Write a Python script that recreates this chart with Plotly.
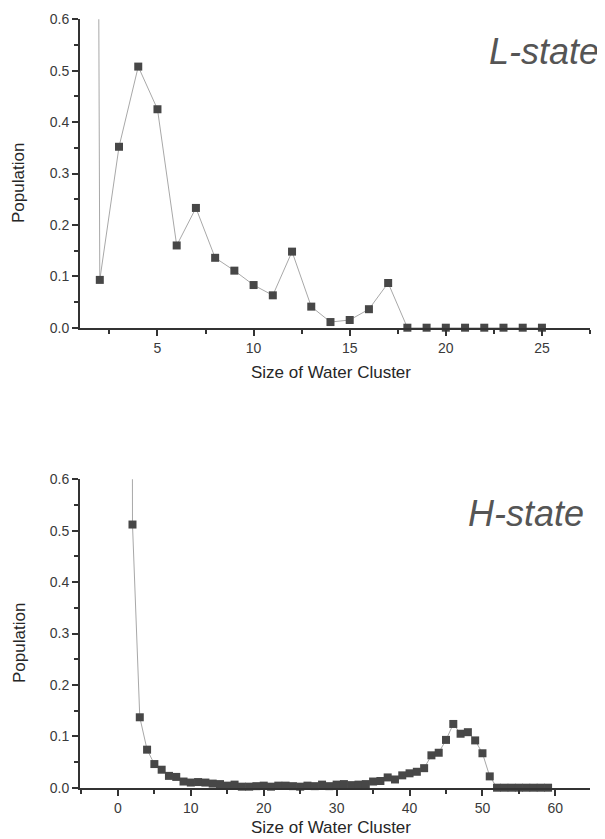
import plotly.graph_objects as go

# ---------------- data ----------------
# L-state (top panel); the first point (size 1) lies far above the 0.6 axis limit
l_sizes = list(range(1, 26))
l_population = [10.0, 0.093, 0.352, 0.508, 0.425, 0.160, 0.233, 0.136, 0.111, 0.083,
                0.063, 0.148, 0.041, 0.011, 0.015, 0.036, 0.087, 0.0, 0.0, 0.0,
                0.0, 0.0, 0.0, 0.0, 0.0]

# H-state (bottom panel); the first point (size 1) lies far above the 0.6 axis limit
h_sizes = list(range(1, 60))
h_population = [10.0, 0.512, 0.137, 0.074, 0.046, 0.035, 0.023, 0.021, 0.012, 0.010,
                0.011, 0.010, 0.008, 0.007, 0.004, 0.006, 0.002, 0.002, 0.003, 0.004,
                0.002, 0.004, 0.004, 0.003, 0.002, 0.004, 0.003, 0.006, 0.003, 0.006,
                0.007, 0.005, 0.006, 0.007, 0.012, 0.013, 0.020, 0.016, 0.024, 0.028,
                0.031, 0.038, 0.063, 0.068, 0.093, 0.124, 0.105, 0.108, 0.092, 0.067,
                0.022, 0.0, 0.0, 0.0, 0.0, 0.0, 0.0, 0.0, 0.0]

x_title = "Size of Water Cluster"
y_title = "Population"
labels = ["L-state", "H-state"]

# ---------------- style ----------------
LINE_COLOR = "#a8a8a8"
MARKER_COLOR = "#474747"
AXIS_COLOR = "#333333"
TEXT_COLOR = "#3a3a3a"
FONT = "Liberation Sans, Arial, sans-serif"

# the page body has an 8px margin, so the figure is drawn 8px smaller and
# positions below are given in figure pixels (= page pixels - 8)
W, H = 597, 831


def px(x):
    return x / W


def py(y):
    return 1 - y / H


fig = go.Figure()

panels = [
    (l_sizes, l_population, "x", "y"),
    (h_sizes, h_population, "x2", "y2"),
]
for xs, ys, xa, ya in panels:
    fig.add_trace(go.Scatter(x=xs, y=ys, mode="lines", xaxis=xa, yaxis=ya,
                             line=dict(color=LINE_COLOR, width=1),
                             showlegend=False, hoverinfo="skip"))
    fig.add_trace(go.Scatter(x=xs[1:], y=ys[1:], mode="markers", xaxis=xa, yaxis=ya,
                             marker=dict(symbol="square", size=8, color=MARKER_COLOR,
                                         line=dict(width=0)),
                             cliponaxis=False, showlegend=False))

axis_common = dict(
    showline=True, linecolor=AXIS_COLOR, linewidth=2,
    showgrid=False, zeroline=False, mirror=False, automargin=False,
    ticks="outside", ticklen=6, tickwidth=1.5, tickcolor=AXIS_COLOR,
    tickfont=dict(family=FONT, size=14, color=TEXT_COLOR),
)


def minor(step):
    return dict(ticks="outside", dtick=step, tick0=0, ticklen=4,
                tickcolor=AXIS_COLOR, tickwidth=1.5)


X_DOM = [px(72), px(582)]
TOP_Y = [py(319.7), py(11.3)]
BOT_Y = [py(779.7), py(471.3)]

title_font = dict(family=FONT, size=17, color="#262626")
state_font = dict(family=FONT, size=36, color="#555555")

fig.update_layout(
    template="none",
    width=W, height=H,
    margin=dict(l=0, r=0, t=0, b=0, autoexpand=False),
    paper_bgcolor="white", plot_bgcolor="white",
    font=dict(family=FONT, color=TEXT_COLOR),
    xaxis=dict(domain=X_DOM, anchor="y", range=[0.97, 27.5],
               tick0=0, dtick=5, minor=minor(2.5), **axis_common),
    yaxis=dict(domain=TOP_Y, anchor="x", range=[0, 0.6],
               tick0=0, dtick=0.1, tickformat=".1f", minor=minor(0.05), **axis_common),
    xaxis2=dict(domain=X_DOM, anchor="y2", range=[-5.2, 64.75],
                tick0=0, dtick=10, minor=minor(5), **axis_common),
    yaxis2=dict(domain=BOT_Y, anchor="x2", range=[0, 0.6],
                tick0=0, dtick=0.1, tickformat=".1f", minor=minor(0.05), **axis_common),
    annotations=[
        # axis titles
        dict(text=x_title, xref="paper", yref="paper", x=px(323), y=py(365),
             xanchor="center", yanchor="middle", showarrow=False, font=title_font),
        dict(text=x_title, xref="paper", yref="paper", x=px(323), y=py(819),
             xanchor="center", yanchor="middle", showarrow=False, font=title_font),
        dict(text=y_title, xref="paper", yref="paper", x=px(11), y=py(175),
             xanchor="center", yanchor="middle", textangle=-90, showarrow=False,
             font=title_font),
        dict(text=y_title, xref="paper", yref="paper", x=px(11), y=py(635),
             xanchor="center", yanchor="middle", textangle=-90, showarrow=False,
             font=title_font),
        # state labels
        dict(text="<i>" + labels[0] + "</i>", xref="paper", yref="paper",
             x=px(593), y=py(43), xanchor="right", yanchor="middle",
             showarrow=False, font=state_font),
        dict(text="<i>" + labels[1] + "</i>", xref="paper", yref="paper",
             x=px(578), y=py(505), xanchor="right", yanchor="middle",
             showarrow=False, font=state_font),
    ],
)

fig.write_html("out.html")
